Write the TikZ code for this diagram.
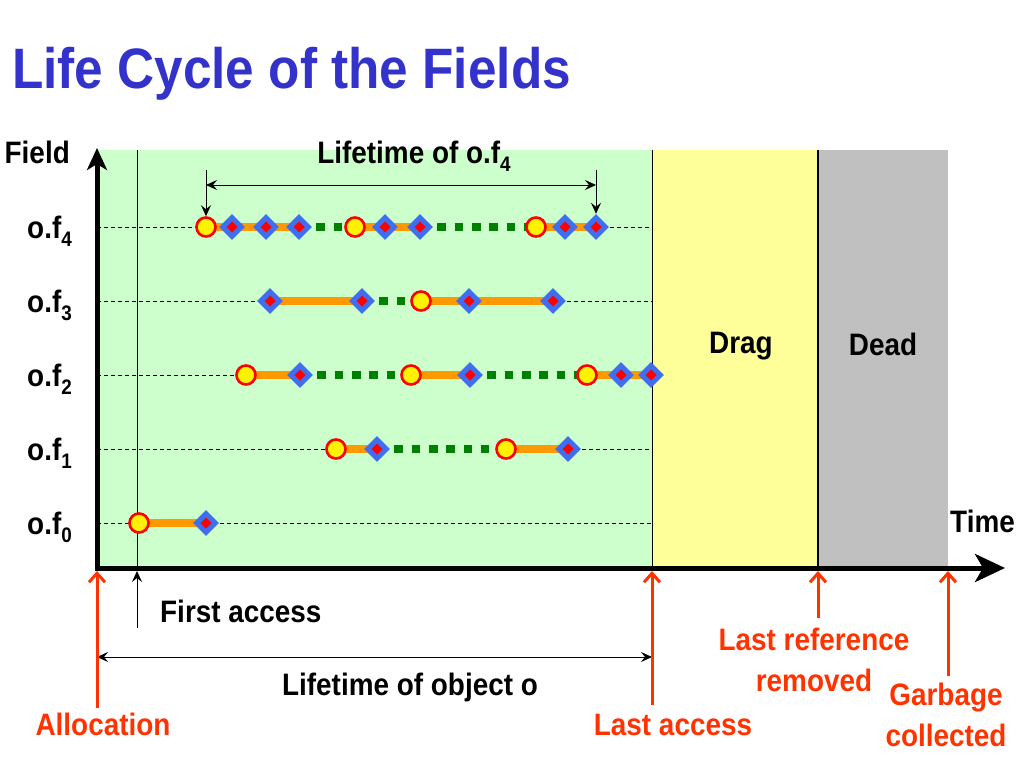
\documentclass[tikz,border=0pt]{standalone}
\usepackage{fontspec}
\setmainfont{Liberation Sans}[FakeStretch=0.9]
\usetikzlibrary{arrows.meta,shapes.geometric}
\definecolor{bggreen}{HTML}{CCFFCC}
\definecolor{bgyellow}{HTML}{FFFF99}
\definecolor{bggray}{HTML}{C0C0C0}
\definecolor{titleblue}{HTML}{3333CC}
\definecolor{labred}{HTML}{FF3300}
\definecolor{segorange}{HTML}{FF9900}
\definecolor{dotgreen}{HTML}{008000}
\definecolor{diablue}{HTML}{3F6FF0}
\newcommand\labfont{\fontsize{31}{31}\selectfont\bfseries}
\newcommand\fsub[1]{\raisebox{-0.28em}{\fontsize{21}{21}\selectfont #1}}
\begin{document}
\begin{tikzpicture}[x=1pt,y=-1pt,
  txt/.style={inner sep=0pt,font=\labfont},
  redtxt/.style={txt,text=labred},
  rowline/.style={black,line width=0.8pt,dash pattern=on 4pt off 3pt},
  seg/.style={segorange,line width=8pt},
  dots/.style={dotgreen,line width=8.6pt,dash pattern=on 8.6pt off 8.7pt},
  circ/.style={circle,draw=red,fill=yellow,line width=2.6pt,minimum size=19pt,inner sep=0pt},
  dia/.style={diamond,fill=diablue,minimum size=26pt,inner sep=0pt,
    path picture={\fill[red] (path picture bounding box.center) +(-5.5,0) -- +(0,5.5) -- +(5.5,0) -- +(0,-5.5) -- cycle;}},
  thinarrow/.style={black,line width=1pt,-{Stealth[length=11pt,width=10pt,inset=4pt]}},
  redarrow/.style={labred,line width=3pt,-{Straight Barb[length=9pt,width=16pt]}},
]
\useasboundingbox (0,0) rectangle (1024,768);
% regions
\fill[bggreen] (97,150) rectangle (652,566);
\fill[bgyellow] (652,150) rectangle (818,566);
\fill[bggray] (818,150) rectangle (948,566);
\draw[line width=1pt] (652,150) -- (652,566);
\draw[line width=2pt] (818,150) -- (818,566);
\draw[line width=1pt] (137,150) -- (137,566);
% title
\node[anchor=base west,inner sep=0pt,text=titleblue,font=\fontsize{57}{57}\selectfont\bfseries] (title) at (12,88) {Life Cycle of the Fields};
% row f4
\coordinate (a1) at (206,227); \coordinate (a2) at (232,227); \coordinate (a3) at (266,227); \coordinate (a4) at (299,227);
\coordinate (a5) at (355,227); \coordinate (a6) at (385,227); \coordinate (a7) at (420,227);
\coordinate (a8) at (536,227); \coordinate (a9) at (565,227); \coordinate (a10) at (596,227);
% row f3
\coordinate (b1) at (270,301); \coordinate (b2) at (362,301); \coordinate (b3) at (421,301); \coordinate (b4) at (469,301); \coordinate (b5) at (553,301);
% row f2
\coordinate (c1) at (246,375); \coordinate (c2) at (300,375); \coordinate (c3) at (411,375); \coordinate (c4) at (470,375);
\coordinate (c5) at (587,375); \coordinate (c6) at (621,375); \coordinate (c7) at (651,375);
% row f1
\coordinate (d1) at (336,449); \coordinate (d2) at (377,449); \coordinate (d3) at (506,449); \coordinate (d4) at (568,449);
% row f0
\coordinate (e1) at (139,523); \coordinate (e2) at (206,523);
% row guide lines (outside the marker spans)
\foreach \n/\y/\f/\l in {4/227/a1/a10,3/301/b1/b5,2/375/c1/c7,1/449/d1/d4,0/523/e1/e2}{
  \coordinate (L\n) at (97,\y);
  \coordinate (R\n) at (652,\y);
  \draw[rowline] (L\n) -- (\f);
  \draw[rowline] (\l) -- (R\n);
}
% segments
\draw[seg] (a1) -- (a4); \draw[dots] (a4) -- (a5); \draw[seg] (a5) -- (a7); \draw[dots] (a7) -- (a8); \draw[seg] (a8) -- (a10);
\draw[seg] (b1) -- (b2); \draw[dots] (b2) -- (b3); \draw[seg] (b3) -- (b5);
\draw[seg] (c1) -- (c2); \draw[dots] (c2) -- (c3); \draw[seg] (c3) -- (c4); \draw[dots] (c4) -- (c5); \draw[seg] (c5) -- (c7);
\draw[seg] (d1) -- (d2); \draw[dots] (d2) -- (d3); \draw[seg] (d3) -- (d4);
\draw[seg] (e1) -- (e2);
% markers
\foreach \p in {a1,a5,a8,b3,c1,c3,c5,d1,d3,e1}{ \node[circ] (m\p) at (\p) {}; }
\foreach \p in {a2,a3,a4,a6,a7,a9,a10,b1,b2,b4,b5,c2,c4,c6,c7,d2,d4,e2}{ \node[dia] (m\p) at (\p) {}; }
% lifetime of o.f4
\coordinate (t1) at (206,170); \coordinate (t2) at (596,170);
\draw[thinarrow] (t1) -- (ma1.north);
\draw[thinarrow] (t2) -- (ma10.north);
\coordinate (h1) at (206,185); \coordinate (h2) at (596,185);
\draw[black,line width=1pt,{Stealth[length=11pt,width=10pt,inset=4pt]}-{Stealth[length=11pt,width=10pt,inset=4pt]}] (h1) -- (h2);
\node[txt,anchor=base] (lf4) at (414,163) {Lifetime of o.f\fsub{4}};
% axes
\coordinate (org) at (97,568);
\coordinate (ytop) at (97,148);
\coordinate (xend) at (1005,568);
\draw[line width=5pt,-{Stealth[length=22pt,width=20pt,inset=6pt]}] (97,570.5) -- (ytop);
\draw[line width=5pt,-{Stealth[length=30pt,width=28pt,inset=8pt]}] (94.5,568) -- (xend);
% axis labels
\node[txt,anchor=base east] (field) at (70,163) {Field};
\node[txt,anchor=base west] (time) at (950,532) {Time};
\node[txt,anchor=base east] (lab4) at (72,238) {o.f\fsub{4}};
\node[txt,anchor=base east] (lab3) at (72,312) {o.f\fsub{3}};
\node[txt,anchor=base east] (lab2) at (72,386) {o.f\fsub{2}};
\node[txt,anchor=base east] (lab1) at (72,460) {o.f\fsub{1}};
\node[txt,anchor=base east] (lab0) at (72,534) {o.f\fsub{0}};
\node[txt,anchor=base] (drag) at (741,353) {Drag};
\node[txt,anchor=base] (dead) at (883,355) {Dead};
% first access
\coordinate (fa0) at (137,628); \coordinate (fa1) at (137,571);
\draw[thinarrow] (fa0) -- (fa1);
\node[txt,anchor=base west] (first) at (160,622) {First access};
% lifetime of object o
\coordinate (o1) at (97,657); \coordinate (o2) at (652,657);
\draw[black,line width=1pt,{Stealth[length=11pt,width=10pt,inset=4pt]}-{Stealth[length=11pt,width=10pt,inset=4pt]}] (o1) -- (o2);
\node[txt,anchor=base] (lobj) at (410,695) {Lifetime of object o};
% red arrows
\coordinate (r1) at (97,708); \coordinate (r1t) at (97,571);
\coordinate (r2) at (652,705); \coordinate (r2t) at (652,571);
\coordinate (r3) at (818,618); \coordinate (r3t) at (818,571);
\coordinate (r4) at (948,676); \coordinate (r4t) at (948,571);
\draw[redarrow] (r1) -- (r1t);
\draw[redarrow] (r2) -- (r2t);
\draw[redarrow] (r3) -- (r3t);
\draw[redarrow] (r4) -- (r4t);
\node[redtxt,anchor=base] (alloc) at (103,735) {Allocation};
\node[redtxt,anchor=base] (lacc) at (673,735) {Last access};
\node[redtxt,anchor=base] (lref1) at (814,650) {Last reference};
\node[redtxt,anchor=base] (lref2) at (814,691) {removed};
\node[redtxt,anchor=base] (gc1) at (946,705) {Garbage};
\node[redtxt,anchor=base] (gc2) at (946,746) {collected};
\end{tikzpicture}
\end{document}
